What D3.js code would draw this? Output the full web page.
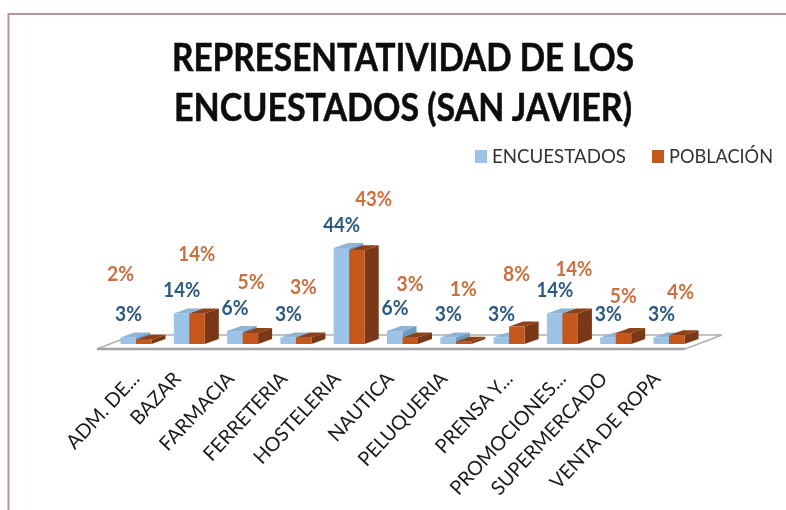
<!DOCTYPE html>
<html>
<head>
<meta charset="utf-8">
<script src="https://cdnjs.cloudflare.com/ajax/libs/d3/7.8.5/d3.min.js"></script>
<style>
    body { margin: 0; background: #fff; }
    svg { display: block; }
    text { font-family: Lato, "Open Sans", sans-serif; }
</style>
</head>
<body>
<div id="chart"></div>
<script>
// chart values
var titleLines = ["REPRESENTATIVIDAD DE LOS", "ENCUESTADOS (SAN JAVIER)"];
var categories = ["ADM. DE...", "BAZAR", "FARMACIA", "FERRETERIA", "HOSTELERIA", "NAUTICA",
    "PELUQUERIA", "PRENSA Y...", "PROMOCIONES...", "SUPERMERCADO", "VENTA DE ROPA"];
var seriesNames = ["ENCUESTADOS", "POBLACIÓN"];
var encuestados = [3, 14, 6, 3, 44, 6, 3, 3, 14, 3, 3];
var poblacion = [2, 14, 5, 3, 43, 3, 1, 8, 14, 5, 4];

// the poblacion labels were dragged around by hand in the original
var labelShiftX = [-24, -1, 0, -1, 16, -1, -1, -1, 3, -1, 3];
var labelShiftY = [-43, -36, -28, -27, -28, -30, -30, -30, -21, -14, -20];

var width = 786, height = 510;
var blue = { front: "#9dc3e6", side: "#6d9bc4", top: "#8fb3d4", text: "#2c5a80" };
var orange = { front: "#c5561f", side: "#7a3714", top: "#8e4017", text: "#c96f3f" };
var depthX = 14, depthY = -5, barWidth = 15.5;

var svg = d3.select("#chart").append("svg")
    .attr("width", width)
    .attr("height", height);

// the source is a soft scan, a small blur brings back that look
svg.append("defs").append("filter").attr("id", "soft")
    .append("feGaussianBlur").attr("stdDeviation", 0.6);

var root = svg.append("g").attr("filter", "url(#soft)");

// frame of the chart area, runs off the right side
root.append("path")
    .attr("d", "M8.5,510V14H786")
    .attr("fill", "none")
    .attr("stroke", "#b8929e")
    .attr("stroke-width", 2);

root.selectAll(".title")
    .data(titleLines)
    .enter()
    .append("text")
    .attr("class", "title")
    .attr("x", 403)
    .attr("y", function(d, i) { return 71 + i * 50; })
    .attr("text-anchor", "middle")
    .attr("font-size", 38)
    .attr("font-weight", 700)
    .attr("fill", "#0a0a0a")
    .attr("stroke", "#0a0a0a")
    .attr("stroke-width", 0.5)
    .attr("textLength", function(d, i) { return i == 0 ? 462 : 458; })
    .attr("lengthAdjust", "spacingAndGlyphs")
    .text(function(d) { return d; });

// scales, step of 53.3 per category
var xScale = d3.scaleBand()
    .domain(categories)
    .range([107, 693.3]);

var yScale = d3.scaleLinear()
    .domain([0, 44])
    .range([344, 248]);

// floor of the 3d plot
root.append("path")
    .attr("d", "M97,349H685L722,335H133Z")
    .attr("fill", "#fff")
    .attr("stroke", "#b0b0b0")
    .attr("stroke-width", 1.6);
root.append("line")
    .attr("x1", 97).attr("x2", 685)
    .attr("y1", 349).attr("y2", 349)
    .attr("stroke", "#a3a3a3")
    .attr("stroke-width", 2.4);

function barLeft(i, offset) {
    return xScale(categories[i]) + 13.5 + offset;
}

function drawSeries(values, colors, offset) {
    var bars = root.append("g").selectAll("g")
        .data(values)
        .enter()
        .append("g");

    bars.append("polygon")
        .attr("fill", colors.side)
        .attr("points", function(d, i) {
            var x = barLeft(i, offset) + barWidth, y = yScale(d), y0 = yScale(0);
            return [[x, y], [x + depthX, y + depthY], [x + depthX, y0 + depthY], [x, y0]].join(" ");
        });
    bars.append("polygon")
        .attr("fill", colors.top)
        .attr("points", function(d, i) {
            var x = barLeft(i, offset), y = yScale(d);
            return [[x, y], [x + depthX, y + depthY], [x + barWidth + depthX, y + depthY], [x + barWidth, y]].join(" ");
        });
    bars.append("rect")
        .attr("fill", colors.front)
        .attr("x", function(d, i) { return barLeft(i, offset); })
        .attr("y", function(d) { return yScale(d); })
        .attr("width", barWidth)
        .attr("height", function(d) { return yScale(0) - yScale(d); });
}

drawSeries(encuestados, blue, 0);
drawSeries(poblacion, orange, barWidth);

// data labels, squeezed a bit because Lato runs wider than the original font
function labelLength(d) {
    return d < 10 ? 27 : 37;
}

root.append("g").selectAll("text")
    .data(encuestados)
    .enter()
    .append("text")
    .attr("x", function(d, i) { return barLeft(i, 8); })
    .attr("y", function(d) { return yScale(d) - 16; })
    .attr("text-anchor", "middle")
    .attr("font-size", 21)
    .attr("font-weight", 700)
    .attr("fill", blue.text)
    .attr("textLength", labelLength)
    .attr("lengthAdjust", "spacingAndGlyphs")
    .text(function(d) { return d + "%"; });

root.append("g").selectAll("text")
    .data(poblacion)
    .enter()
    .append("text")
    .attr("x", function(d, i) { return barLeft(i, 24) + labelShiftX[i]; })
    .attr("y", function(d, i) { return yScale(d) - 16 + labelShiftY[i]; })
    .attr("text-anchor", "middle")
    .attr("font-size", 21)
    .attr("font-weight", 700)
    .attr("fill", orange.text)
    .attr("textLength", labelLength)
    .attr("lengthAdjust", "spacingAndGlyphs")
    .text(function(d) { return d + "%"; });

// category axis, labels end up to the upper right of each slot
var xAxis = root.append("g")
    .attr("transform", "translate(0,375)")
    .call(d3.axisBottom(xScale).tickSize(0).tickPadding(0));

xAxis.select(".domain").remove();

xAxis.selectAll("text")
    .attr("text-anchor", "end")
    .attr("font-size", 19.7)
    .attr("fill", "#1a1a1a")
    .attr("y", 0)
    .attr("dy", ".35em")
    .attr("transform", function(d) {
        // truncated names sit a bit further along in the original
        var cut = d.slice(-3) == "..." ? 12 : 0;
        return "translate(" + (cut - 10) + ",0) rotate(-47)";
    });

// legend
var legendSwatchX = [475, 652];
var legendTextX = [492, 669];
var legendColors = [blue.front, orange.front];
var legend = root.append("g").selectAll("g")
    .data(seriesNames)
    .enter()
    .append("g");

legend.append("rect")
    .attr("x", function(d, i) { return legendSwatchX[i]; })
    .attr("y", 150)
    .attr("width", 12)
    .attr("height", 13)
    .attr("fill", function(d, i) { return legendColors[i]; });

legend.append("text")
    .attr("x", function(d, i) { return legendTextX[i]; })
    .attr("y", 163)
    .attr("font-size", 20)
    .attr("fill", "#333")
    .attr("textLength", function(d, i) { return i == 0 ? 134 : 104; })
    .attr("lengthAdjust", "spacingAndGlyphs")
    .text(function(d) { return d; });
</script>
</body>
</html>
